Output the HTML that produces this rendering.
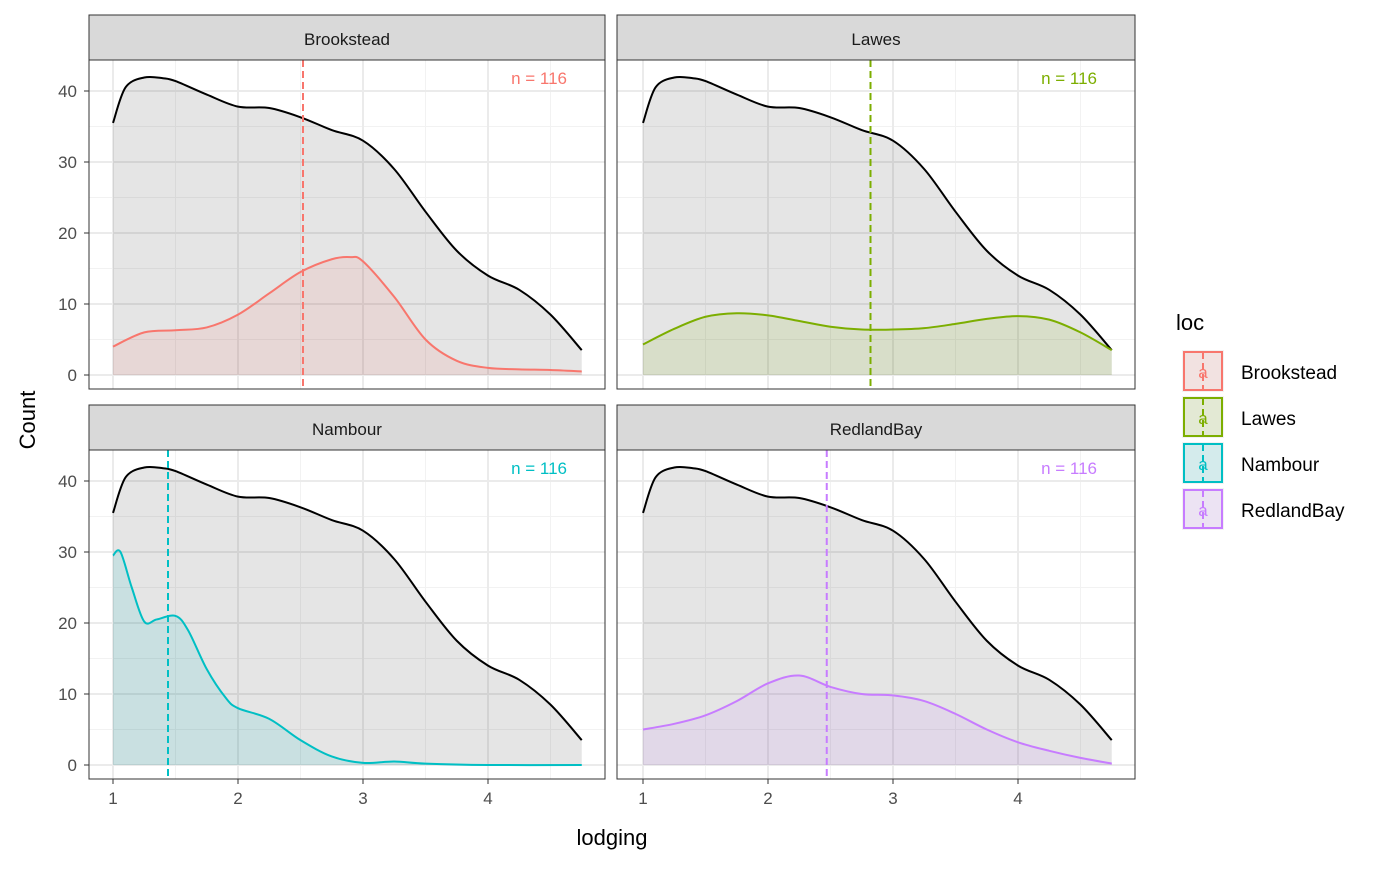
<!DOCTYPE html>
<html><head><meta charset="utf-8"><style>
body{margin:0;background:#fff;font-family:"Liberation Sans",Arial,sans-serif}
</style></head><body>
<svg id="chart" width="1400" height="866" xmlns="http://www.w3.org/2000/svg" font-family="Liberation Sans, Arial, sans-serif"></svg>
<script>
const panelNames=["Brookstead","Lawes","Nambour","RedlandBay"];
const panelColors=["#F8766D","#7CAE00","#00BFC4","#C77CFF"];
const totalX=[1,1.1,1.25,1.4,1.5,1.75,2,2.25,2.5,2.75,3,3.25,3.5,3.75,4,4.25,4.5,4.75];
const totalY=[35.5,40.5,41.9,41.8,41.4,39.5,37.8,37.6,36.3,34.5,33,29,23,17.5,14,12,8.5,3.5];
const brookX=[1,1.25,1.5,1.75,2,2.25,2.5,2.75,2.9,3,3.25,3.5,3.75,4,4.25,4.5,4.75];
const brookY=[4,6,6.3,6.7,8.5,11.5,14.5,16.3,16.6,16,11,5,2,1,0.8,0.7,0.5];
const lawesX=[1,1.25,1.5,1.75,2,2.25,2.5,2.75,3,3.25,3.5,3.75,4,4.25,4.5,4.75];
const lawesY=[4.3,6.5,8.2,8.7,8.4,7.6,6.8,6.4,6.4,6.6,7.2,7.9,8.3,7.8,6,3.5];
const nambX=[1,1.06,1.15,1.25,1.35,1.5,1.6,1.75,1.9,2,2.25,2.5,2.75,3,3.25,3.5,4,4.75];
const nambY=[29.5,30,25,20.2,20.5,21,19,13.5,9.5,8,6.5,3.5,1.2,0.3,0.5,0.2,0,0];
const redX=[1,1.25,1.5,1.75,2,2.25,2.5,2.75,3,3.25,3.5,3.75,4,4.25,4.5,4.75];
const redY=[5,5.8,7,9,11.5,12.6,11,10,9.8,9,7.2,5,3.2,2,1,0.2];
const seriesX=[brookX,lawesX,nambX,redX];
const seriesY=[brookY,lawesY,nambY,redY];
const meanX=[2.52,2.82,1.44,2.47];
const nLabels=["n = 116","n = 116","n = 116","n = 116"];
const xTicks=[1,2,3,4];
const yTicks=[0,10,20,30,40];

const svg=document.getElementById('chart');
const NS="http://www.w3.org/2000/svg";
function mk(t,a,p){const e=document.createElementNS(NS,t);for(const k in a)e.setAttribute(k,a[k]);(p||svg).appendChild(e);return e;}
const panels=[{x0:89,x1:605,y0:60,y1:389,s:15,o:113},{x0:617,x1:1135,y0:60,y1:389,s:15,o:643},{x0:89,x1:605,y0:450,y1:779,s:405,o:113},{x0:617,x1:1135,y0:450,y1:779,s:405,o:643}];
function smooth(pts){let d="M"+pts[0][0]+","+pts[0][1];for(let i=0;i<pts.length-1;i++){const p0=pts[Math.max(0,i-1)],p1=pts[i],p2=pts[i+1],p3=pts[Math.min(pts.length-1,i+2)];const c1=[p1[0]+(p2[0]-p0[0])/6,p1[1]+(p2[1]-p0[1])/6],c2=[p2[0]-(p3[0]-p1[0])/6,p2[1]-(p3[1]-p1[1])/6];d+=" C"+c1[0]+","+c1[1]+" "+c2[0]+","+c2[1]+" "+p2[0]+","+p2[1];}return d;}
panels.forEach((P,i)=>{
  const xs=v=>P.o+(v-1)*125;
  const ys=v=>P.y1-14-v*7.1;
  const g=mk('g',{});
  
  
  mk('rect',{x:P.x0,y:P.y0,width:P.x1-P.x0,height:P.y1-P.y0,fill:'#fff'},g);
  for(let v=5;v<45;v+=10)mk('line',{x1:P.x0,x2:P.x1,y1:ys(v),y2:ys(v),stroke:'#f2f2f2','stroke-width':1},g);
  for(let v=1.5;v<5;v+=1)mk('line',{x1:xs(v),x2:xs(v),y1:P.y0,y2:P.y1,stroke:'#f2f2f2','stroke-width':1},g);
  yTicks.forEach(v=>mk('line',{x1:P.x0,x2:P.x1,y1:ys(v),y2:ys(v),stroke:'#ebebeb','stroke-width':2},g));
  xTicks.forEach(v=>mk('line',{x1:xs(v),x2:xs(v),y1:P.y0,y2:P.y1,stroke:'#ebebeb','stroke-width':2},g));
  const tp=totalX.map((x,k)=>[xs(x),ys(totalY[k])]);
  const td=smooth(tp);
  const ta=mk('path',{d:td+` L${xs(totalX[totalX.length-1])},${ys(0)} L${xs(totalX[0])},${ys(0)} Z`,fill:'#000','fill-opacity':0.1},g);
  
  
  const sx=seriesX[i],sy=seriesY[i];
  const sp=sx.map((x,k)=>[xs(x),ys(sy[k])]);
  const sd=smooth(sp);
  const sa=mk('path',{d:sd+` L${xs(sx[sx.length-1])},${ys(0)} L${xs(sx[0])},${ys(0)} Z`,fill:panelColors[i],'fill-opacity':0.12},g);
  
  
  const tl=mk('path',{d:td,fill:'none',stroke:'#000','stroke-width':2},g);
  
  
  const sl=mk('path',{d:sd,fill:'none',stroke:panelColors[i],'stroke-width':2},g);
  
  
  const ml=mk('line',{x1:xs(meanX[i]),x2:xs(meanX[i]),y1:P.y0,y2:P.y1,stroke:panelColors[i],'stroke-width':2,'stroke-dasharray':'7,4'},g);
  
  
  const nt=mk('text',{x:P.x1-38,y:P.y0+24,'text-anchor':'end','font-size':17,fill:panelColors[i]},g);nt.textContent=nLabels[i];
  
  
  mk('rect',{x:P.x0,y:P.y0,width:P.x1-P.x0,height:P.y1-P.y0,fill:'none',stroke:'#333','stroke-width':1},g);
  mk('rect',{x:P.x0,y:P.s,width:P.x1-P.x0,height:P.y0-P.s,fill:'#d9d9d9',stroke:'#333','stroke-width':1},g);
  const st=mk('text',{x:(P.x0+P.x1)/2,y:P.s+30,'text-anchor':'middle','font-size':17,fill:'#1a1a1a'},g);st.textContent=panelNames[i];
  
  
  if(i%2==0)yTicks.forEach(v=>{mk('line',{x1:P.x0-5,x2:P.x0,y1:ys(v),y2:ys(v),stroke:'#333'});const t=mk('text',{x:P.x0-12,y:ys(v)+6,'text-anchor':'end','font-size':17,fill:'#4d4d4d'});t.textContent=v;
    
    });
  if(i>=2)xTicks.forEach(v=>{mk('line',{x1:xs(v),x2:xs(v),y1:P.y1,y2:P.y1+5,stroke:'#333'});const t=mk('text',{x:xs(v),y:P.y1+25,'text-anchor':'middle','font-size':17,fill:'#4d4d4d'});t.textContent=v;
    
    });
});
const xt=mk('text',{x:612,y:845,'text-anchor':'middle','font-size':22,fill:'#000'});xt.textContent='lodging';


const yt=mk('text',{x:0,y:0,'text-anchor':'middle','font-size':22,fill:'#000',transform:'translate(35,420) rotate(-90)'});yt.textContent='Count';


const lt=mk('text',{x:1176,y:330,'font-size':22,fill:'#000'});lt.textContent='loc';


panelNames.forEach((n,k)=>{
  const y=350+k*46;
  const g=mk('g',{});
  
  
  mk('rect',{x:1182,y:y,width:42,height:42,fill:'#f2f2f2'},g);
  mk('rect',{x:1184,y:y+2,width:38,height:38,fill:panelColors[k],'fill-opacity':0.12,stroke:panelColors[k],'stroke-width':2},g);
  mk('line',{x1:1203,x2:1203,y1:y+2,y2:y+40,stroke:panelColors[k],'stroke-width':2,'stroke-dasharray':'7,4'},g);
  const a=mk('text',{x:1203,y:y+28,'text-anchor':'middle','font-size':17,fill:panelColors[k]},g);a.textContent='a';
  const t=mk('text',{x:1241,y:y+29,'font-size':19,fill:'#000'},g);t.textContent=n;
});
</script>
</body></html>
